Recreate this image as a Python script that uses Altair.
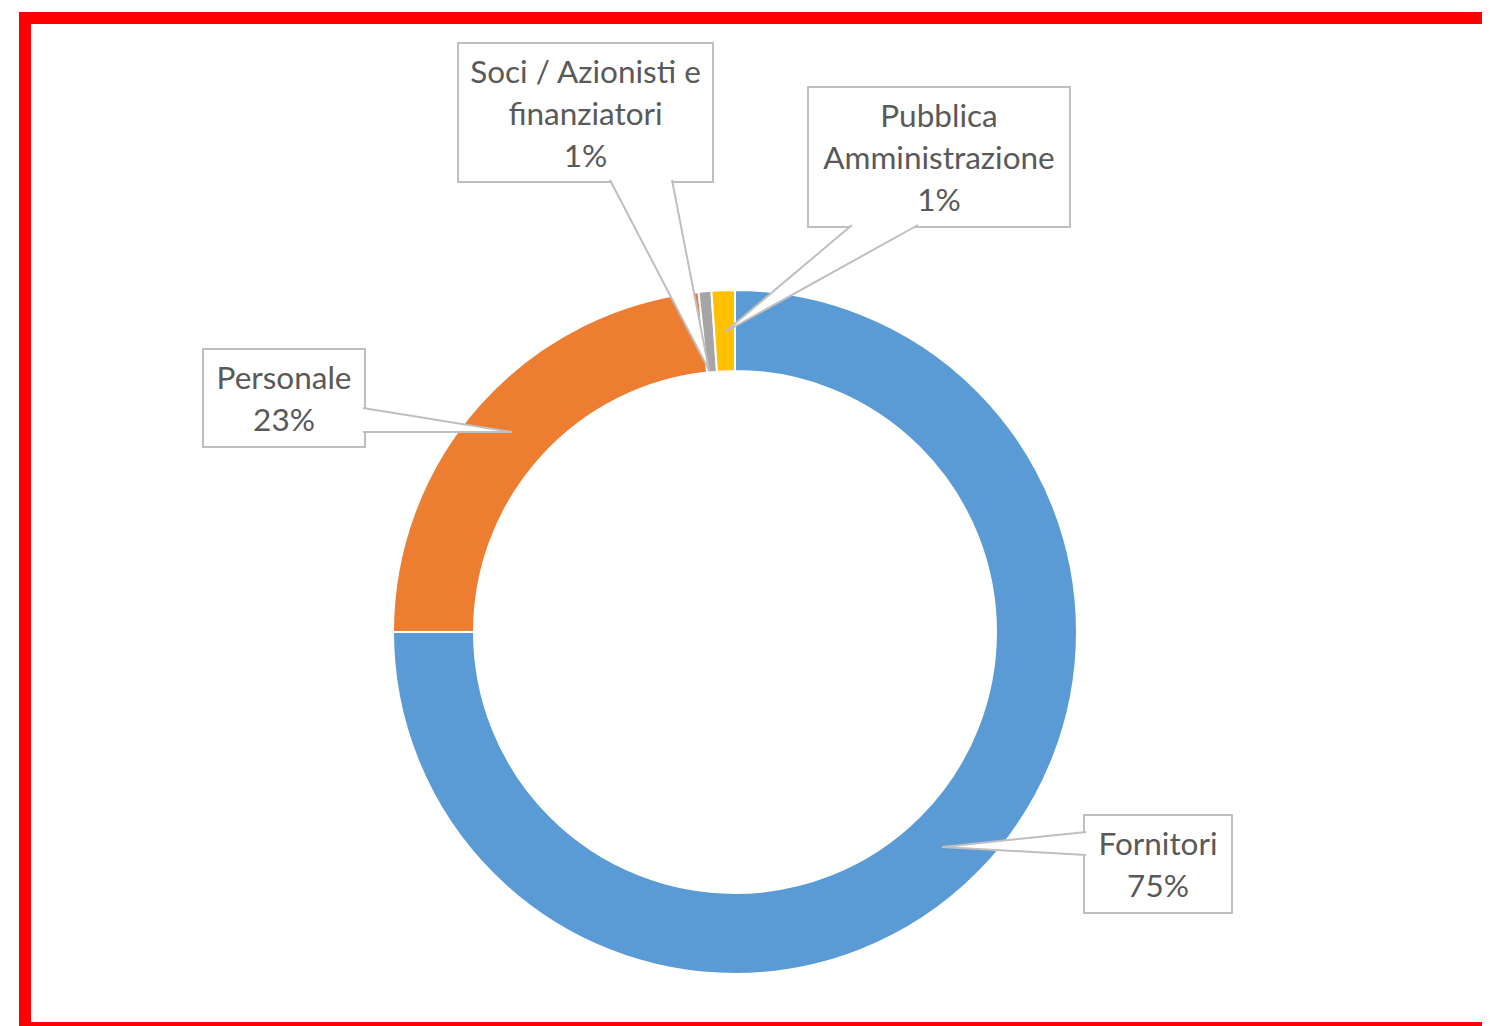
import altair as alt
import pandas as pd

# ---- data ----
categorie = ["Fornitori", "Personale", "Soci / Azionisti e finanziatori", "Pubblica Amministrazione"]
valori = [75.0, 23.3, 0.6, 1.1]
colori = ["#5B9BD5", "#ED7D31", "#A5A5A5", "#FFC000"]
# wrapped label text (as in the original callouts)
righe_etichette = ["Fornitori", "Personale", "Soci / Azionisti e\nfinanziatori", "Pubblica\nAmministrazione"]

# ---- layout (page pixel coordinates) ----
W, H = 1474, 1018
LH = 42
box_x1 = [1084, 203, 458, 808]
box_x2 = [1232, 365, 713, 1070]
box_y1 = [815, 349, 43, 87]
box_y2 = [913, 447, 182, 227]
punte = [  # (base A, tip, base B)
    [(1086, 832), (942, 847), (1086, 855)],
    [(363, 408), (512, 432), (363, 432)],
    [(610, 180), (709, 370), (672, 180)],
    [(852, 225), (725, 332), (918, 225)],
]
cx, cy, R_out, R_in = 735, 632, 342, 261

totale = sum(valori)
df = pd.DataFrame({
    "categoria": categorie,
    "valore": valori,
    "ordine": list(range(len(categorie))),
})

testi = [f"{r}\n{round(v / totale * 100)}%" for r, v in zip(righe_etichette, valori)]
lab = pd.DataFrame({
    "categoria": categorie,
    "testo": testi,
    "x1": box_x1, "x2": box_x2, "y1": box_y1, "y2": box_y2,
})
lab["xc"] = (lab["x1"] + lab["x2"]) / 2
n_righe = [t.count("\n") + 1 for t in testi]
lab["yc"] = [(a + b) / 2 + 3 - (n - 1) * LH / 2 for a, b, n in zip(box_y1, box_y2, n_righe)]

pts = []
for c, trio in zip(categorie, punte):
    for k, (px, py) in enumerate(trio):
        pts.append({"categoria": c, "k": k, "px": px, "py": py})
pts = pd.DataFrame(pts)

xs = alt.Scale(domain=[8, 8 + W], range=[0, W])
ys = alt.Scale(domain=[8, 8 + H], range=[0, H])

donut = alt.Chart(df).mark_arc(
    outerRadius=R_out, innerRadius=R_in, stroke="white", strokeWidth=2
).encode(
    theta=alt.Theta("valore:Q", stack=True),
    color=alt.Color("categoria:N", scale=alt.Scale(domain=categorie, range=colori), legend=None),
    order=alt.Order("ordine:Q"),
    x=alt.value(cx - 8),
    y=alt.value(cy - 8),
)

boxes = alt.Chart(lab).mark_rect(fill="white", stroke="#BFBFBF", strokeWidth=2).encode(
    x=alt.X("x1:Q", scale=xs, axis=None),
    x2="x2:Q",
    y=alt.Y("y1:Q", scale=ys, axis=None),
    y2="y2:Q",
)

pointers = alt.Chart(pts).mark_line(fill="white", stroke="#BFBFBF", strokeWidth=2).encode(
    x=alt.X("px:Q", scale=xs, axis=None),
    y=alt.Y("py:Q", scale=ys, axis=None),
    detail="categoria:N",
    order="k:Q",
)

texts = alt.Chart(lab).mark_text(
    font="Lato", fontSize=31.5, color="#595959", lineBreak="\n", lineHeight=LH,
    align="center", baseline="middle",
).encode(
    x=alt.X("xc:Q", scale=xs, axis=None),
    y=alt.Y("yc:Q", scale=ys, axis=None),
    text="testo:N",
)

frame_df = pd.DataFrame({"x1": [25], "x2": [1520], "y1": [18], "y2": [1028]})
frame = alt.Chart(frame_df).mark_rect(fill="transparent", stroke="#FF0000", strokeWidth=12).encode(
    x=alt.X("x1:Q", scale=xs, axis=None),
    x2="x2:Q",
    y=alt.Y("y1:Q", scale=ys, axis=None),
    y2="y2:Q",
)

chart = alt.layer(donut, boxes, pointers, texts, frame).properties(
    width=W, height=H, padding=0, autosize=alt.AutoSizeParams(type="none")
).configure_view(stroke=None)

chart.save("out.html", embed_options={"renderer": "svg", "actions": False})
